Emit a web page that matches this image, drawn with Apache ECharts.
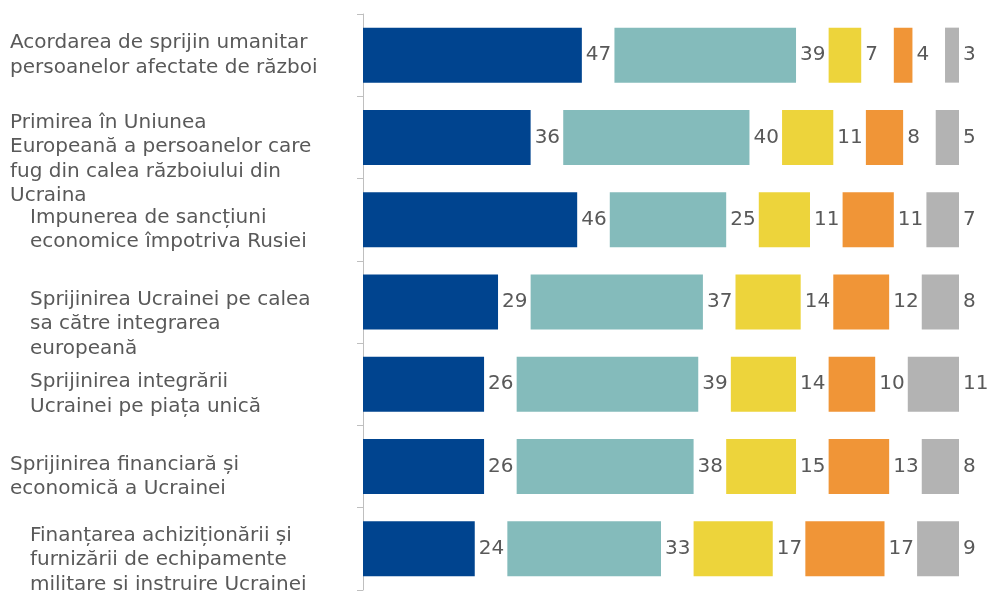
<!DOCTYPE html>
<html>
<head>
<meta charset="utf-8">
<script src="https://cdn.jsdelivr.net/npm/echarts@6/dist/echarts.min.js"></script>
<style>
html, body { margin: 0; padding: 0; background: #fff; }
#chart { width: 988px; height: 592px; }
</style>
</head>
<body>
<div id="chart"></div>
<script>
// categorii (de sus in jos)
var categories = [
    'Acordarea de sprijin umanitar\npersoanelor afectate de război',
    'Primirea în Uniunea\nEuropeană a persoanelor care\nfug din calea războiului din\nUcraina',
    'Impunerea de sancțiuni\neconomice împotriva Rusiei',
    'Sprijinirea Ucrainei pe calea\nsa către integrarea\neuropeană',
    'Sprijinirea integrării\nUcrainei pe piața unică',
    'Sprijinirea financiară și\neconomică a Ucrainei',
    'Finanțarea achiziționării și\nfurnizării de echipamente\nmilitare si instruire Ucrainei'
];

var seriesNames = ['Total de acord', 'Tind să fiu de acord', 'Tind să nu fiu de acord', 'Total în dezacord', 'Nu știu'];

var totalAcord     = [47, 36, 46, 29, 26, 26, 24];
var tindAcord      = [39, 40, 25, 37, 39, 38, 33];
var tindDezacord   = [7, 11, 11, 14, 14, 15, 17];
var totalDezacord  = [4, 8, 11, 12, 10, 13, 17];
var nuStiu         = [3, 5, 7, 8, 11, 8, 9];

var colors = ['#00448F', '#84BBBB', '#EDD43B', '#F09537', '#B3B3B3'];

// spatiu gol intre segmente (loc pentru etichete), in unitati ale axei
var GAP = 7;
// deplasarea etichetelor din stanga (ca in original)
var labelShift  = [0, 22, 10, 22, 10, 10, 11];
var labelIndent = [0, 0, 20, 20, 20, 0, 20];

var FONT = 'DejaVu Sans, Verdana, sans-serif';
var TEXT_COLOR = '#595959';
var FONT_SIZE = 20;
var LINE_H = 24.5;

var myChart = echarts.init(document.getElementById('chart'));

var allValues = [totalAcord, tindAcord, tindDezacord, totalDezacord, nuStiu];
var series = [];
allValues.forEach(function (vals, i) {
    if (i > 0) {
        series.push({
            type: 'bar',
            stack: 'total',
            barWidth: 55,
            silent: true,
            itemStyle: { color: 'transparent' },
            data: categories.map(function () { return GAP; })
        });
    }
    series.push({
        name: seriesNames[i],
        type: 'bar',
        stack: 'total',
        barWidth: 55,
        itemStyle: { color: colors[i] },
        label: {
            show: true,
            position: 'right',
            distance: 4,
            color: TEXT_COLOR,
            fontSize: FONT_SIZE,
            fontFamily: FONT
        },
        data: vals
    });
});

// stiluri rich pentru etichetele din stanga
var rich = {};
categories.forEach(function (c, i) {
    rich['t' + i] = {
        color: TEXT_COLOR,
        fontSize: FONT_SIZE,
        fontFamily: FONT,
        lineHeight: LINE_H,
        padding: [0, 0, 0, labelIndent[i]]
    };
    rich['s' + i] = {
        fontSize: 1,
        lineHeight: Math.max(1, labelShift[i] * 2)
    };
});

var option = {
    animation: false,
    grid: {
        left: 363,
        right: 29,
        top: 14,
        bottom: 2,
        containLabel: false,
        outerBoundsMode: 'none'
    },
    xAxis: {
        type: 'value',
        min: 0,
        max: 100 + 4 * GAP,
        show: false
    },
    yAxis: {
        type: 'category',
        inverse: true,
        data: categories,
        axisLine: { show: true, lineStyle: { color: '#BFBFBF', width: 1 } },
        axisTick: { show: true, inside: false, length: 6, lineStyle: { color: '#BFBFBF', width: 1 } },
        axisLabel: {
            interval: 0,
            hideOverlap: false,
            align: 'left',
            margin: 353,
            color: TEXT_COLOR,
            fontSize: FONT_SIZE,
            lineHeight: LINE_H,
            fontFamily: FONT,
            formatter: function (value, idx) {
                var str = value.split('\n').map(function (l) {
                    return '{t' + idx + '|' + l + '}';
                }).join('\n');
                if (labelShift[idx] > 0) {
                    str = '{s' + idx + '| }\n' + str;
                }
                return str;
            },
            rich: rich
        }
    },
    series: series
};
myChart.setOption(option);
</script>
</body>
</html>
